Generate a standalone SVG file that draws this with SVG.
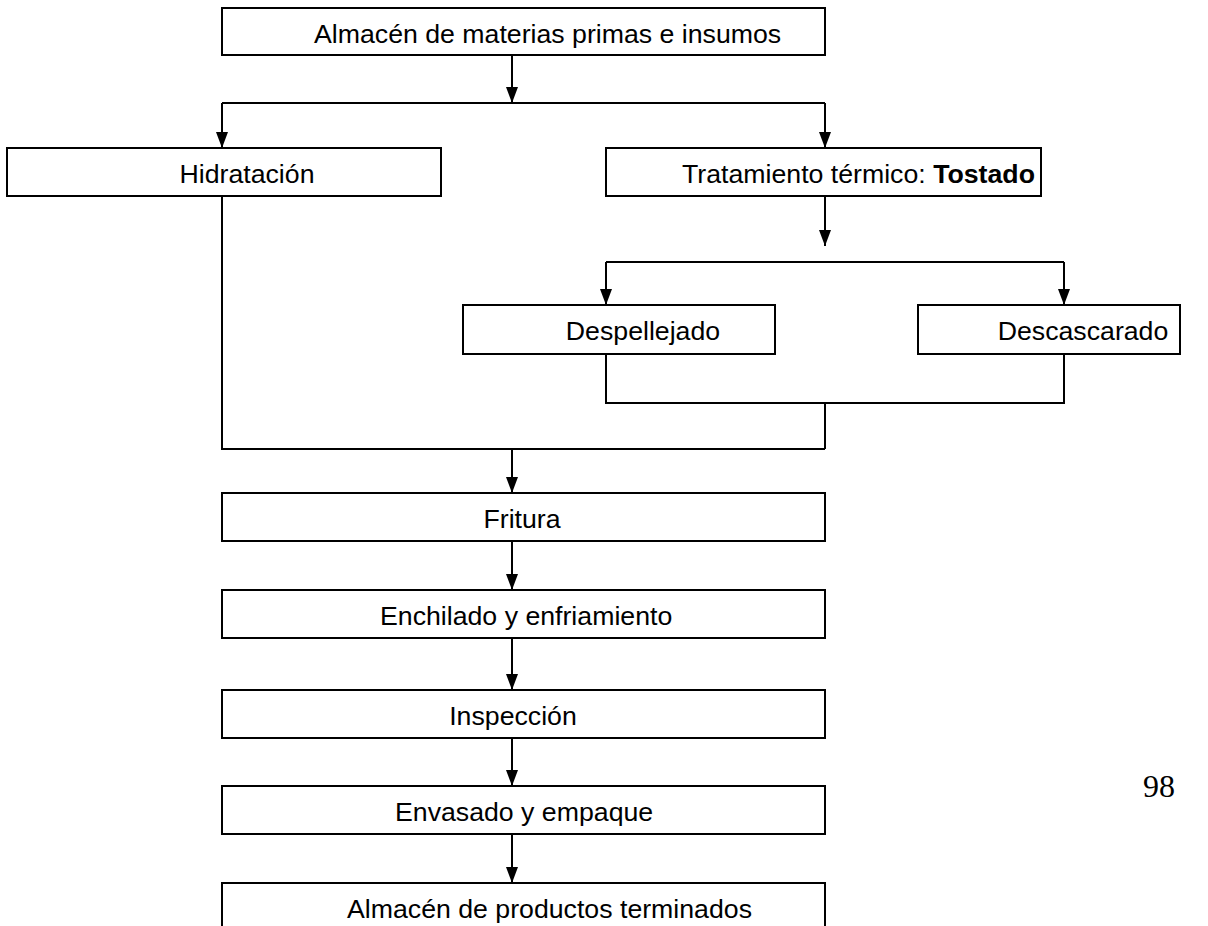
<svg xmlns="http://www.w3.org/2000/svg" width="1208" height="926" viewBox="0 0 1208 926">
<defs>
<marker id="ah" viewBox="0 0 16 12" refX="16" refY="6" markerWidth="16" markerHeight="12" markerUnits="userSpaceOnUse" orient="auto">
<path d="M0,0 L16,6 L0,12 z" fill="#000"/>
</marker>
<style>
.box{fill:#fff;stroke:#000;stroke-width:2}
.t{font-family:"Liberation Sans",Arial,sans-serif;font-size:26.7px;fill:#000;text-anchor:middle}
.s{text-anchor:start}
.c{fill:none;stroke:#000;stroke-width:2}
.a{fill:none;stroke:#000;stroke-width:2;marker-end:url(#ah)}
</style>
</defs>
<rect width="1208" height="926" fill="#fff"/>
<g id="connectors">
<path class="a" d="M512,55 V103"/>
<path class="c" d="M222,103 H825"/>
<path class="a" d="M222,103 V148"/>
<path class="a" d="M825,103 V148"/>
<path class="a" d="M825,196 V246"/>
<path class="c" d="M606,262 H1064"/>
<path class="a" d="M606,262 V305"/>
<path class="a" d="M1064,262 V305"/>
<path class="c" d="M606,354 V403 H1064 V354"/>
<path class="c" d="M825,403 V449"/>
<path class="c" d="M222,196 V449 H825"/>
<path class="a" d="M512,449 V493"/>
<path class="a" d="M512,541 V590"/>
<path class="a" d="M512,638 V690"/>
<path class="a" d="M512,738 V786"/>
<path class="a" d="M512,834 V883"/>
</g>
<g id="n-almacen-mp"><rect class="box" x="222" y="8" width="603" height="47"/><text class="t s" x="314" y="43">Almacén de materias primas e insumos</text></g>
<g id="n-hidratacion"><rect class="box" x="7" y="148" width="434" height="48"/><text class="t" x="247" y="183">Hidratación</text></g>
<g id="n-tostado"><rect class="box" x="606" y="148" width="435" height="48"/><text class="t s" x="682" y="183">Tratamiento térmico: <tspan font-weight="bold">Tostado</tspan></text></g>
<g id="n-despellejado"><rect class="box" x="463" y="305" width="312" height="49"/><text class="t" x="643" y="340">Despellejado</text></g>
<g id="n-descascarado"><rect class="box" x="918" y="305" width="262" height="49"/><text class="t" x="1083" y="340">Descascarado</text></g>
<g id="n-fritura"><rect class="box" x="222" y="493" width="603" height="48"/><text class="t" x="522" y="528">Fritura</text></g>
<g id="n-enchilado"><rect class="box" x="222" y="590" width="603" height="48"/><text class="t s" x="380" y="625">Enchilado y enfriamiento</text></g>
<g id="n-inspeccion"><rect class="box" x="222" y="690" width="603" height="48"/><text class="t" x="513" y="725">Inspección</text></g>
<g id="n-envasado"><rect class="box" x="222" y="786" width="603" height="48"/><text class="t s" x="395" y="821">Envasado y empaque</text></g>
<g id="n-almacen-pt"><path class="c" d="M222,930 V883 H825 V930"/><text class="t s" x="347" y="918">Almacén de productos terminados</text></g>
<text x="1159" y="797" font-family="'Liberation Serif','Times New Roman',serif" font-size="32" text-anchor="middle" fill="#000">98</text>
</svg>
